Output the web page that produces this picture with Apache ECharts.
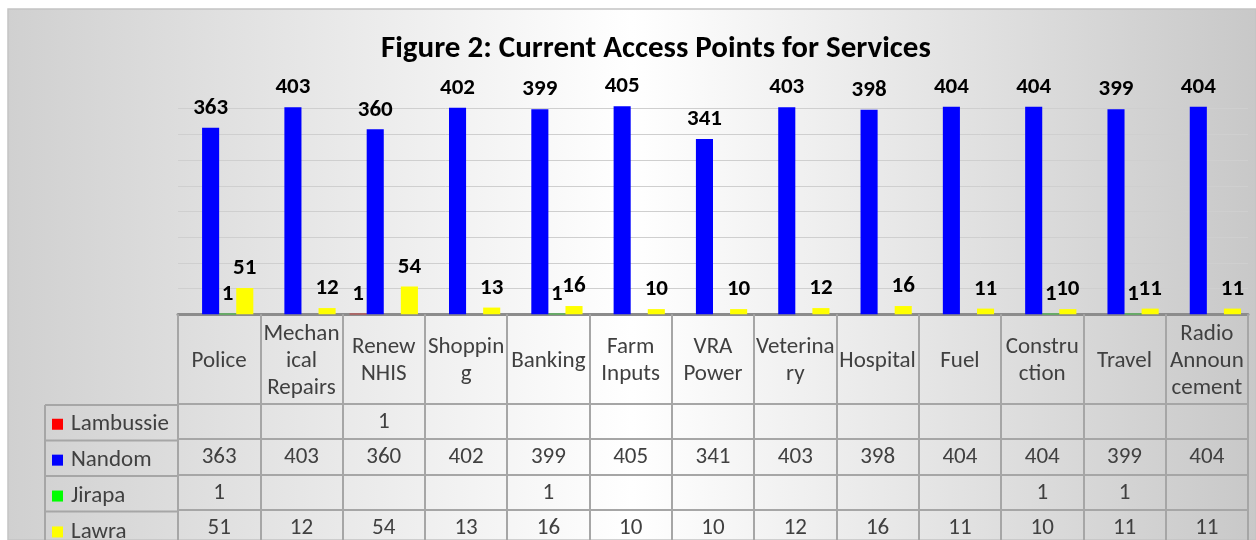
<!DOCTYPE html>
<html><head><meta charset="utf-8">
<script src="https://cdn.jsdelivr.net/npm/echarts@6/dist/echarts.min.js"></script>
<style>html,body{margin:0;padding:0;background:#fff}#c{width:1256px;height:540px}</style>
</head><body><div id="c"></div>
<script>
// ---- data ----
const categories = ['Police','Mechanical Repairs','Renew NHIS','Shopping','Banking','Farm Inputs','VRA Power','Veterinary','Hospital','Fuel','Construction','Travel','Radio Announcement'];
const headerLabels = ['Police','Mechan\nical\nRepairs','Renew\nNHIS','Shoppin\ng','Banking','Farm\nInputs','VRA\nPower','Veterina\nry','Hospital','Fuel','Constru\nction','Travel','Radio\nAnnoun\ncement'];
const seriesNames = ['Lambussie','Nandom','Jirapa','Lawra'];
const lambussie = [null,null,1,null,null,null,null,null,null,null,null,null,null];
const nandom = [363,403,360,402,399,405,341,403,398,404,404,399,404];
const jirapa = [1,null,null,null,1,null,null,null,null,null,1,1,null];
const lawra = [51,12,54,13,16,10,10,12,16,11,10,11,11];
const yMin = 0, yMax = 450, yInterval = 50;
const titleText = 'Figure 2: Current Access Points for Services';

// ---- style / layout ----
const seriesValues = [lambussie, nandom, jirapa, lawra];
const colors = ['#ff0000','#0000ff','#00ff00','#ffff00'];
const FONT = 'Carlito, Lato, sans-serif';
const W = 1256, H = 540;
const G_LEFT = 178, G_RIGHT = 1248, G_TOP = 83, AXIS_Y = 316;
const HEADER_H = 89, ROW_H = 35.5, LEG_LEFT = 45;
const TABLE_LINE = '#a6a6a6', TEXT_C = '#404040';
const TFS = 23;

const chart = echarts.init(document.getElementById('c'), null, {renderer: 'canvas'});

const xAxes = [{
  type: 'category', data: headerLabels, gridIndex: 0, position: 'bottom',
  axisLine: {show: true, lineStyle: {color: '#8c8c8c', width: 3}},
  axisTick: {show: true, length: HEADER_H, lineStyle: {color: TABLE_LINE, width: 2}},
  axisLabel: {interval: 0, margin: HEADER_H / 2 + 2, verticalAlign: 'middle', lineHeight: 27,
    fontSize: TFS, color: TEXT_C, fontFamily: FONT, align: 'center', hideOverlap: false}
}];
seriesValues.forEach((vals, i) => {
  xAxes.push({
    type: 'category', data: categories, gridIndex: 0, position: 'bottom',
    offset: HEADER_H + i * ROW_H,
    axisLine: {show: true, lineStyle: {color: TABLE_LINE, width: 2}},
    axisTick: {show: true, length: ROW_H, lineStyle: {color: TABLE_LINE, width: 2}},
    axisLabel: {interval: 0, margin: ROW_H / 2 + 1, verticalAlign: 'middle',
      fontSize: TFS, color: TEXT_C, fontFamily: FONT,
      formatter: (v, idx) => vals[idx] == null ? '' : String(vals[idx])}
  });
});

const series = seriesNames.map((name, i) => ({
  name, type: 'bar', xAxisIndex: 0, yAxisIndex: 0,
  data: seriesValues[i],
  itemStyle: {color: colors[i]},
  barGap: '0%', barCategoryGap: '17%',
  label: {show: true, position: 'top', distance: 8, color: '#000', fontWeight: 'bold',
    fontSize: 23, fontFamily: FONT}
}));

// table chrome for the legend column
const legendLines = [];
for (let i = 0; i < seriesNames.length; i++) {
  const y = AXIS_Y + HEADER_H + i * ROW_H;
  legendLines.push({type: 'line', z: 5, shape: {x1: LEG_LEFT, y1: y, x2: G_LEFT, y2: y},
    style: {stroke: TABLE_LINE, lineWidth: 2}});
}
legendLines.push({type: 'line', z: 5, shape: {x1: LEG_LEFT, y1: AXIS_Y + HEADER_H, x2: LEG_LEFT, y2: H},
  style: {stroke: TABLE_LINE, lineWidth: 2}});

chart.setOption({
  backgroundColor: '#ffffff',
  animation: false,
  title: {text: titleText, left: 376, top: 29,
    textStyle: {fontSize: 31, fontWeight: 'bold', color: '#000', fontFamily: FONT}},
  legend: {orient: 'vertical', left: 52, top: AXIS_Y + HEADER_H + ROW_H / 2 - 10, padding: 0,
    itemWidth: 11, itemHeight: 11, itemGap: ROW_H - 23 + 0.4, icon: 'rect', height: 160,
    textStyle: {fontSize: TFS, lineHeight: 20, color: TEXT_C, fontFamily: FONT, padding: [0, 0, 0, 3]},
    data: seriesNames},
  grid: {left: G_LEFT, right: W - G_RIGHT, top: G_TOP, bottom: H - AXIS_Y, containLabel: false},
  xAxis: xAxes,
  yAxis: {type: 'value', min: yMin, max: yMax, interval: yInterval,
    axisLabel: {show: false}, axisLine: {show: false}, axisTick: {show: false},
    splitLine: {show: true, showMaxLine: false, lineStyle: {color: '#cfcfcf', width: 1}}},
  graphic: [
    {type: 'rect', z: -100, silent: true, shape: {x: 8, y: 9, width: W - 8, height: H - 9},
      style: {fill: new echarts.graphic.LinearGradient(0, 0, 1, 0, [
        {offset: 0, color: '#d0d0d0'}, {offset: 0.5, color: '#ffffff'}, {offset: 1, color: '#c8c8c8'}]),
        stroke: '#c4c4c4', lineWidth: 1.5}},
    ...legendLines
  ],
  series
});
</script></body></html>
